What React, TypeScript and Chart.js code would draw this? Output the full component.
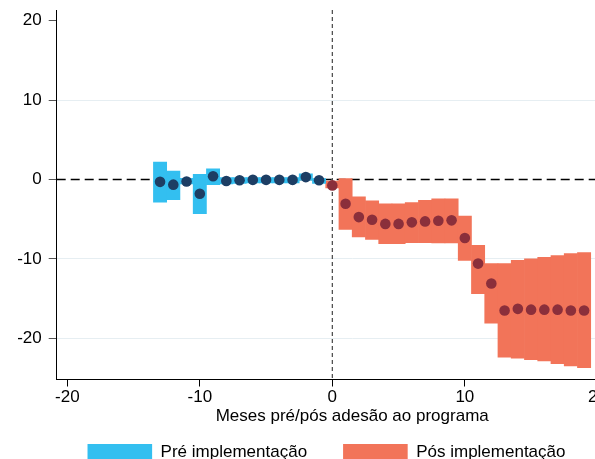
import React, { useEffect, useRef } from "react";
import { Chart, registerables } from "chart.js";

Chart.register(...registerables);

const preMonths = [-13, -12, -11, -10, -9, -8, -7, -6, -5, -4, -3, -2, -1];
const preEstimate = [-0.3, -0.65, -0.25, -1.8, 0.4, -0.2, -0.1, -0.05, -0.05, -0.05, -0.05, 0.3, -0.1];
const preLower = [-2.85, -2.55, -0.55, -4.3, -0.65, -0.55, -0.5, -0.45, -0.45, -0.45, -0.45, -0.1, -0.5];
const preUpper = [2.2, 1.05, 0.15, 0.65, 1.35, 0.25, 0.25, 0.25, 0.25, 0.25, 0.25, 0.7, 0.1];

const postMonths = [0, 1, 2, 3, 4, 5, 6, 7, 8, 9, 10, 11, 12, 13, 14, 15, 16, 17, 18, 19];
const postEstimate = [-0.75, -3.06, -4.74, -5.07, -5.6, -5.6, -5.4, -5.28, -5.2, -5.15, -7.38, -10.6, -13.1, -16.5, -16.3, -16.4, -16.4, -16.4, -16.5, -16.5];
const postLower = [-1.05, -6.3, -7.25, -7.55, -8.1, -8.1, -7.96, -7.96, -8.0, -8.0, -10.2, -14.4, -18.1, -22.4, -22.5, -22.7, -22.85, -23.2, -23.5, -23.7];
const postUpper = [-0.2, 0.1, -2.2, -2.7, -3.06, -3.06, -2.9, -2.64, -2.43, -2.43, -4.6, -8.3, -10.6, -10.6, -10.2, -10.0, -9.8, -9.6, -9.35, -9.2];

const xTitle = "Meses pré/pós adesão ao programa";
const preLabel = "Pré implementação";
const postLabel = "Pós implementação";

const BLUE = "#33bff0";
const RED = "#f27459";
const NAVY = "#1d3e64";
const DARKRED = "#8b2f3b";
const FONT = "Liberation Sans, Arial, Helvetica, sans-serif";

const refLines = {
  id: "refLines",
  beforeDatasetsDraw(chart: any) {
    const { ctx, chartArea, scales } = chart;
    const y0 = scales.y.getPixelForValue(0);
    const x0 = scales.x.getPixelForValue(0);
    ctx.save();
    ctx.beginPath();
    ctx.rect(chartArea.left, chartArea.top, chartArea.right - chartArea.left, chartArea.bottom - chartArea.top);
    ctx.clip();
    ctx.strokeStyle = "#000";
    ctx.lineWidth = 1.6;
    ctx.setLineDash([9, 5]);
    ctx.beginPath();
    ctx.moveTo(chartArea.left, y0);
    ctx.lineTo(chartArea.right, y0);
    ctx.stroke();
    ctx.strokeStyle = "#444";
    ctx.lineWidth = 1.2;
    ctx.setLineDash([4, 3]);
    ctx.beginPath();
    ctx.moveTo(x0, chartArea.top);
    ctx.lineTo(x0, chartArea.bottom);
    ctx.stroke();
    ctx.restore();
  },
};

export default function App() {
  const ref = useRef<HTMLCanvasElement | null>(null);
  useEffect(() => {
    if (!ref.current) return;
    const chart = new Chart(ref.current, {
      type: "bar",
      data: {
        datasets: [
          {
            type: "scatter",
            label: "pre-est",
            data: preMonths.map((m, i) => ({ x: m, y: preEstimate[i] })),
            backgroundColor: NAVY,
            borderWidth: 0,
            pointRadius: 5.3,
            order: 1,
          } as any,
          {
            type: "scatter",
            label: "post-est",
            data: postMonths.map((m, i) => ({ x: m, y: postEstimate[i] })),
            backgroundColor: DARKRED,
            borderWidth: 0,
            pointRadius: 5.3,
            order: 1,
          } as any,
          {
            type: "bar",
            label: preLabel,
            data: preMonths.map((m, i) => ({ x: m, y: [preLower[i], preUpper[i]] })),
            backgroundColor: BLUE,
            borderColor: BLUE,
            borderWidth: 0,
            grouped: false,
            barPercentage: 1,
            categoryPercentage: 1,
            order: 3,
          } as any,
          {
            type: "bar",
            label: postLabel,
            data: postMonths.map((m, i) => ({ x: m, y: [postLower[i], postUpper[i]] })),
            backgroundColor: RED,
            borderColor: RED,
            borderWidth: 0,
            grouped: false,
            barPercentage: 1,
            categoryPercentage: 1,
            order: 3,
          } as any,
        ],
      },
      options: {
        animation: false,
        responsive: false,
        layout: { padding: { top: 10, left: 0, right: 0, bottom: 0 } },
        plugins: {
          tooltip: { enabled: false },
          legend: {
            position: "bottom",
            labels: {
              filter: (item: any) => item.text === preLabel || item.text === postLabel,
              boxWidth: 64.6,
              boxHeight: 17,
              padding: 36,
              color: "#000",
              font: { size: 17, family: FONT },
            },
          },
        },
        scales: {
          x: {
            type: "linear",
            offset: false,
            min: -20.8,
            max: 23.8,
            afterFit: (s: any) => {
              s.paddingLeft = 0;
              s.paddingRight = 0;
            },
            ticks: {
              stepSize: 10,
              includeBounds: false,
              color: "#000",
              padding: 1,
              font: { size: 17, family: FONT },
            },
            grid: { offset: false, drawOnChartArea: false, tickLength: 7, tickColor: "#000" },
            border: { color: "#000", width: 1 },
            title: {
              display: true,
              text: xTitle,
              color: "#000",
              font: { size: 17, family: FONT },
              padding: { top: -2.6, bottom: -18.7 },
            },
          },
          y: {
            min: -25.2,
            max: 21.35,
            afterFit: (s: any) => {
              s.width = 56.7;
              s.paddingTop = 0;
              s.paddingBottom = 0;
            },
            ticks: {
              stepSize: 10,
              includeBounds: false,
              color: "#000",
              padding: 7,
              font: { size: 17, family: FONT },
            },
            grid: {
              tickLength: 8,
              tickColor: "#555",
              color: (c: any) => (c.tick && (c.tick.value === 0 || c.tick.value === 20) ? "rgba(0,0,0,0)" : "#e6eef2"),
            },
            border: { color: "#000", width: 1 },
          },
        },
      } as any,
      plugins: [refLines],
    });
    return () => chart.destroy();
  }, []);
  return (
    <div style={{ position: "absolute", left: 0, top: 0, width: 595, height: 459, overflow: "hidden", background: "#fff" }}>
      <canvas ref={ref} width={653} height={471} style={{ display: "block" }} />
    </div>
  );
}
